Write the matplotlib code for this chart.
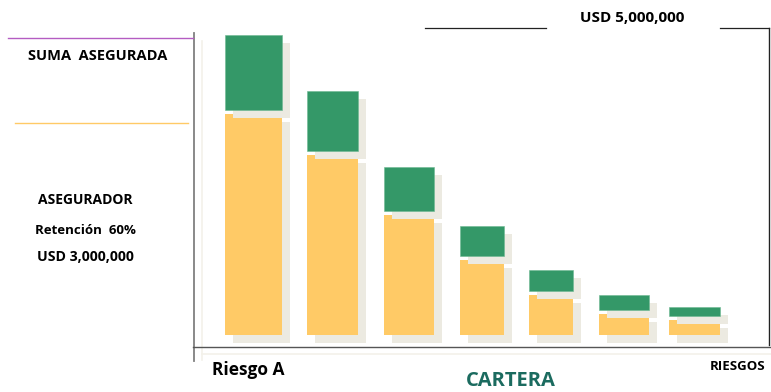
import matplotlib
matplotlib.use("Agg")
from matplotlib import pyplot as plt
from matplotlib.lines import Line2D
import matplotlib.transforms as mtransforms

# bar data (arbitrary units)
riesgos = ["Riesgo A", "B", "C", "D", "E", "F", "G"]
retencion = [221, 180, 120, 75, 40, 21, 15]
excedente = [75, 60, 44, 30, 21, 15, 9]

# layout of the bars (not evenly spaced in the original)
bar_pos = [0, 1.078, 2.116, 3.106, 4.051, 5.044, 6.0]
bar_widths = [0.78, 0.69, 0.68, 0.6, 0.6, 0.68, 0.69]

GREEN = "#349868"
YELLOW = "#FFCA66"
SHADOW = "#ECEAE1"
GAP = 4

W, H = 771, 392
fig = plt.figure(figsize=(W / 100, H / 100), dpi=100)


def fx(px):
    return px / W


def fy(py):
    return 1 - py / H


ax = fig.add_axes([fx(193), fy(347), fx(769) - fx(193), fy(28) - fy(347)])
ax.set_xlim(-0.823, 7.014)
ax.set_ylim(-12, 307)
ax.axis("off")

shadow = ax.transData + mtransforms.ScaledTranslation(8 / 100, -8 / 100, fig.dpi_scale_trans)

top_bottom = [r + GAP for r in retencion]
ax.bar(bar_pos, retencion, width=bar_widths, color=SHADOW, transform=shadow, zorder=1)
ax.bar(bar_pos, retencion, width=bar_widths, color=YELLOW, zorder=2)
ax.bar(bar_pos, excedente, bottom=top_bottom, width=bar_widths, color=SHADOW,
       transform=shadow, zorder=3)
ax.bar(bar_pos, excedente, bottom=top_bottom, width=bar_widths, color=GREEN,
       edgecolor="#6DB891", linewidth=0.4, zorder=4)


def line(x0, y0, x1, y1, color, lw):
    fig.add_artist(Line2D([fx(x0), fx(x1)], [fy(y0), fy(y1)], color=color,
                          linewidth=lw, transform=fig.transFigure))


# frame / guide lines
line(202, 41, 202, 360, "#F3F1EA", 1.2)
line(202, 354, 771, 354, "#F3F1EA", 1.2)
line(193.5, 33, 193.5, 361, "#808080", 1.3)
line(193, 347, 771, 347, "#555555", 1.0)
line(769, 28, 769, 345, "#222222", 1.0)
line(425, 28, 546, 28, "#222222", 0.9)
line(720, 28, 769, 28, "#222222", 0.9)
line(8, 38, 193, 38, "#B45CC2", 1.0)
line(15, 123, 188, 123, "#FFCA66", 1.0)

font = "Open Sans"
fig.text(fx(97.5), fy(56), "SUMA  ASEGURADA", ha="center", va="center",
         fontsize=10.5, fontweight="bold", family=font)
fig.text(fx(85), fy(200), "ASEGURADOR", ha="center", va="center",
         fontsize=10, fontweight="bold", family=font)
fig.text(fx(85), fy(230), "Retención  60%", ha="center", va="center",
         fontsize=9.5, fontweight="bold", family=font)
fig.text(fx(85), fy(257), "USD 3,000,000", ha="center", va="center",
         fontsize=10.2, fontweight="bold", family=font)
fig.text(fx(632), fy(18), "USD 5,000,000", ha="center", va="center",
         fontsize=11, fontweight="bold", family=font)
fig.text(fx(212), fy(370), riesgos[0], ha="left", va="center",
         fontsize=12.5, fontweight="bold", family=font)
fig.text(fx(511), fy(381), "CARTERA", ha="center", va="center",
         fontsize=14.5, fontweight="bold", family=font, color="#1B6B5F")
fig.text(fx(765), fy(367), "RIESGOS", ha="right", va="center",
         fontsize=9.5, fontweight="bold", family=font)

fig.savefig("out.png", dpi=100)
